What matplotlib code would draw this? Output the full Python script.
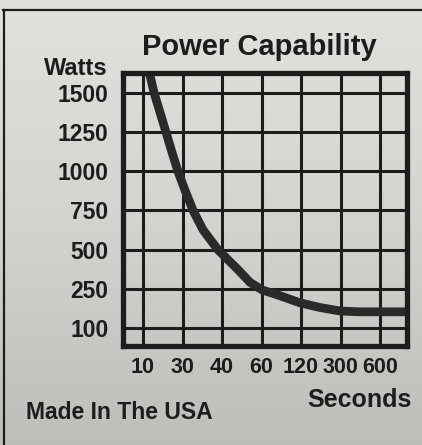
import numpy as np
import matplotlib.pyplot as plt
from matplotlib.lines import Line2D
from matplotlib.colors import LinearSegmentedColormap

plt.rcParams['font.family'] = ['Liberation Sans', 'DejaVu Sans']
plt.rcParams['font.weight'] = 'bold'

seconds_labels = ['10', '30', '40', '60', '120', '300', '600']
watts_labels = ['100', '250', '500', '750', '1000', '1250', '1500']

# curve, in grid steps (x: seconds column, y: watts row)
curve_x = [0.13, 0.28, 0.58, 0.73, 0.89, 1.06, 1.27, 1.52, 1.90, 2.41, 2.71,
           3.01, 3.47, 3.97, 4.48, 4.99, 5.49, 6.00, 6.76]
curve_y = [6.64, 6.00, 5.00, 4.49, 3.98, 3.52, 2.99, 2.50, 1.99, 1.48, 1.16,
           0.97, 0.82, 0.64, 0.52, 0.43, 0.41, 0.41, 0.41]

ink = '#1d1d1d'
W, H = 422, 445
fig = plt.figure(figsize=(W / 100, H / 100), dpi=100)

# paper background
bg = fig.add_axes([0, 0, 1, 1], zorder=-5)
grad = np.linspace(0, 1, 256).reshape(-1, 1)
paper = LinearSegmentedColormap.from_list('paper', ['#e2e1dd', '#d4d3cf', '#bebdba'])
bg.imshow(grad, aspect='auto', cmap=paper, extent=[0, 1, 0, 1])
bg.axis('off')

fig.add_artist(Line2D([3 / W, 1], [1 - 10 / H, 1 - 10 / H], color=ink, lw=1.6))
fig.add_artist(Line2D([4 / W, 4 / W], [0, 1 - 10 / H], color=ink, lw=1.6))

ax = fig.add_axes([122.5 / W, 1 - 345.5 / H, 284 / W, 273 / H])
ax.set_facecolor('none')
xs = np.arange(len(seconds_labels))
ys = np.arange(len(watts_labels))
ax.set_xlim(-0.52, 6.67)
ax.set_ylim(-0.45, 6.52)
for x in xs:
    ax.axvline(x, color=ink, lw=2.2, zorder=1)
for y in ys:
    ax.axhline(y, color=ink, lw=2.2, zorder=1)
ax.plot(curve_x, curve_y, color='#2a2a2a', lw=6.3, solid_capstyle='butt',
        solid_joinstyle='round', zorder=2)

ax.set_xticks(xs)
ax.set_xticklabels(seconds_labels, fontsize=15.5, color=ink)
ax.set_yticks(ys)
ax.set_yticklabels(watts_labels, fontsize=16.5, color=ink)
ax.tick_params(length=0)
ax.tick_params(axis='x', pad=8.5)
ax.tick_params(axis='y', pad=10)
for s in ax.spines.values():
    s.set_linewidth(3.8)
    s.set_color(ink)
    s.set_zorder(3)

fig.text(259 / W, 1 - 55 / H, 'Power Capability', ha='center', va='baseline',
         fontsize=21, color=ink)
fig.text(108 / W, 1 - 75 / H, 'Watts', ha='right', va='baseline',
         fontsize=17, color=ink)
fig.text(412 / W, 1 - 407 / H, 'Seconds', ha='right', va='baseline',
         fontsize=18, color=ink)
fig.text(26 / W, 1 - 419 / H, 'Made In The USA', ha='left', va='baseline',
         fontsize=16.5, color=ink)

fig.savefig('out.png', dpi=100)
